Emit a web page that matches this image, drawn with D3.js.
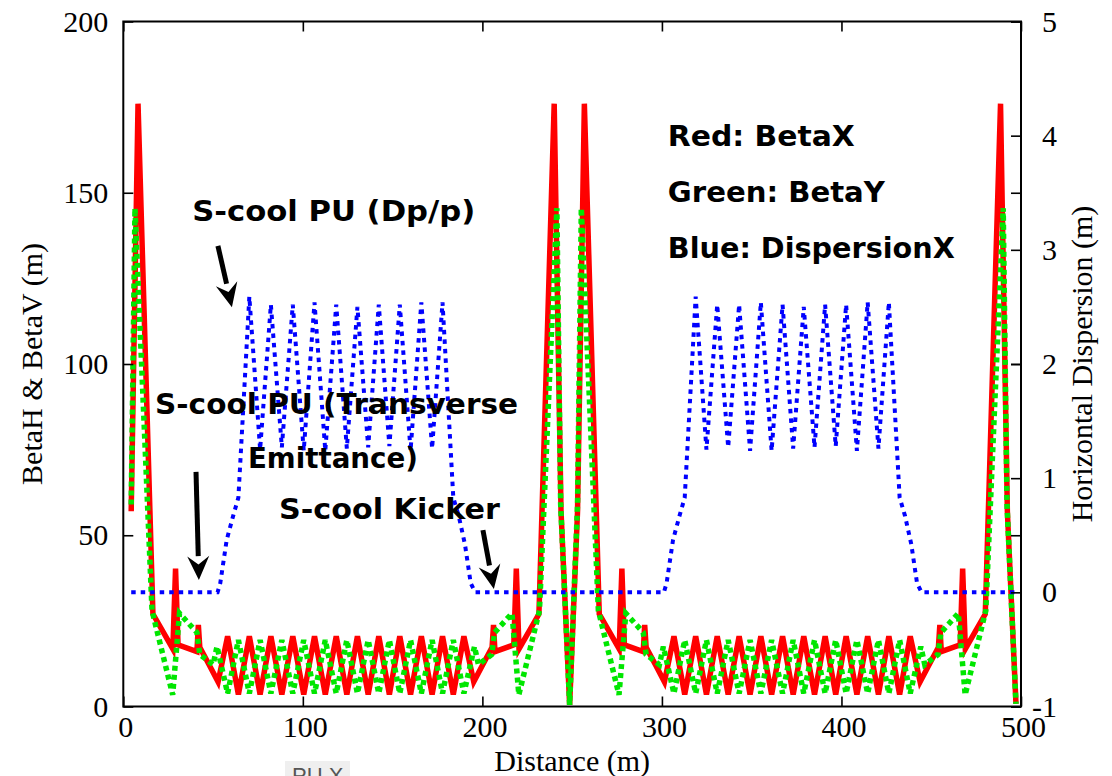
<!DOCTYPE html>
<html>
<head>
<meta charset="utf-8">
<script src="https://cdn.jsdelivr.net/npm/d3@7"></script>
<style>
  html, body { margin: 0; padding: 0; background: #fff; }
  svg { display: block; }
</style>
</head>
<body>
<svg id="chart" width="1112" height="776"></svg>
<script>
// ---- Lattice functions along the ring (distance in m) ----

// Horizontal beta function (left axis, m)
const distBetaX = [
  4.4, 8.2, 16.5, 27.6, 29.1, 30.5, 41.0, 41.8, 42.6, 47.5, 52.8,
  58.1, 64.1, 70.2, 76.2, 82.2, 88.3, 94.4, 100.5, 106.5, 112.5, 118.6, 124.5,
  130.4, 136.4, 142.3, 148.2, 154.0, 160.0, 166.0, 172.0, 177.8, 183.8, 189.7,
  195.2, 200.5, 205.4, 206.2, 207.0, 217.5, 218.9, 220.4, 231.5, 240.0, 243.8, 248.6,
  253.0, 256.8, 265.1, 276.2, 277.7, 279.1, 289.6, 290.4, 291.2, 296.1, 301.4,
  306.7, 312.7, 318.8, 324.8, 330.8, 336.9, 343.0, 349.1, 355.1, 361.1, 367.2, 373.1,
  379.0, 385.0, 390.9, 396.8, 402.6, 408.6, 414.6, 420.6, 426.4, 432.4, 438.3,
  443.8, 449.1, 454.0, 454.8, 455.6, 466.1, 467.5, 469.0, 480.1, 488.6, 492.4, 497.2
];
const betaX = [
  57, 176, 27, 16.8, 40.3, 18, 16, 23.8, 17.3, 12.5, 7.2,
  20.5, 3.5, 20.5, 3.5, 20.5, 3.5, 20.5, 3.5, 20.5, 3.5, 20.5, 3.5,
  20.5, 3.5, 20.5, 3.5, 20.5, 3.5, 20.5, 3.5, 20.5, 3.5, 20.5,
  7.2, 12.5, 17.3, 23.8, 16, 18, 40.3, 16.8, 27, 176, 57, 0.5,
  57, 176, 27, 16.8, 40.3, 18, 16, 23.8, 17.3, 12.5, 7.2,
  20.5, 3.5, 20.5, 3.5, 20.5, 3.5, 20.5, 3.5, 20.5, 3.5, 20.5, 3.5,
  20.5, 3.5, 20.5, 3.5, 20.5, 3.5, 20.5, 3.5, 20.5, 3.5, 20.5,
  7.2, 12.5, 17.3, 23.8, 16, 18, 40.3, 16.8, 27, 176, 57, 0.8
];

// Vertical beta function (left axis, m)
const distBetaY = [
  4.4, 6.5, 16.0, 27.5, 31.3, 41.0, 42.6, 50.0, 52.2,
  58.1, 64.1, 70.2, 76.2, 82.2, 88.3, 94.4, 100.5, 106.5, 112.5, 118.6, 124.5,
  130.4, 136.4, 142.3, 148.2, 154.0, 160.0, 166.0, 172.0, 177.8, 183.8, 189.7,
  195.6, 197.8, 205.2, 206.8, 216.5, 220.3, 231.8, 241.5, 243.6, 248.6,
  253.0, 255.1, 264.6, 276.1, 279.9, 289.6, 291.2, 298.6, 300.8,
  306.7, 312.7, 318.8, 324.8, 330.8, 336.9, 343.0, 349.1, 355.1, 361.1, 367.2, 373.1,
  379.0, 385.0, 390.9, 396.8, 402.6, 408.6, 414.6, 420.6, 426.4, 432.4, 438.3,
  444.2, 446.4, 453.8, 455.4, 465.1, 468.9, 480.4, 490.1, 492.2, 497.2
];
const betaY = [
  59, 145.5, 28, 3.4, 27.2, 21.6, 15.2, 12.2, 17.5,
  3.8, 19.4, 3.8, 19.4, 3.8, 19.4, 3.8, 19.4, 3.8, 19.4, 3.8, 19.4,
  3.8, 19.4, 3.8, 19.4, 3.8, 19.4, 3.8, 19.4, 3.8, 19.4, 3.8,
  17.5, 12.2, 15.2, 21.6, 27.2, 3.4, 28, 145.5, 59, 0.5,
  59, 145.5, 28, 3.4, 27.2, 21.6, 15.2, 12.2, 17.5,
  3.8, 19.4, 3.8, 19.4, 3.8, 19.4, 3.8, 19.4, 3.8, 19.4, 3.8, 19.4,
  3.8, 19.4, 3.8, 19.4, 3.8, 19.4, 3.8, 19.4, 3.8, 19.4, 3.8,
  17.5, 12.2, 15.2, 21.6, 27.2, 3.4, 28, 145.5, 59, 0.8
];

// Horizontal dispersion (right axis, m)
const distDispX = [
  4.4, 52.5, 54.0, 57.6, 61.2, 64.1,
  70.2, 76.2, 82.2, 88.3, 94.4, 100.5, 106.5, 112.5, 118.6, 124.5,
  130.4, 136.4, 142.3, 148.2, 154.0, 160.0, 166.0, 172.0, 177.8,
  183.8, 186.8, 190.3, 193.5, 196.0,
  301.1, 302.6, 306.2, 309.8, 312.7,
  318.8, 324.8, 330.8, 336.9, 343.0, 349.1, 355.1, 361.1, 367.2, 373.1,
  379.0, 385.0, 390.9, 396.8, 402.6, 408.6, 414.6, 420.6, 426.4,
  432.4, 435.4, 438.9, 442.1, 444.6, 497.6
];
const dispX = [
  0, 0, 0.08, 0.46, 0.67, 0.83,
  2.59, 1.25, 2.52, 1.27, 2.52, 1.24, 2.54, 1.24, 2.52, 1.26,
  2.50, 1.27, 2.52, 1.28, 2.52, 1.24, 2.54, 1.26, 2.54,
  0.83, 0.67, 0.42, 0.08, 0,
  0, 0.08, 0.46, 0.67, 0.83,
  2.59, 1.25, 2.52, 1.27, 2.52, 1.24, 2.54, 1.24, 2.52, 1.26,
  2.50, 1.27, 2.52, 1.28, 2.52, 1.24, 2.54, 1.26, 2.54,
  0.83, 0.67, 0.42, 0.08, 0, 0
];

// ---- Axis ticks ----
const distTicks = [0, 100, 200, 300, 400, 500];
const betaTicks = [0, 50, 100, 150, 200];
const dispTicks = [-1, 0, 1, 2, 3, 4, 5];

// ---- Annotations: text anchored at [distance, beta] ----
const notes = [
  { text: "S-cool PU (Dp/p)",       at: [38.4, 141.8], len: 283 },
  { text: "S-cool PU (Transverse",  at: [17.7, 85.4],  len: 363 },
  { text: "Emittance)",             at: [69.4, 69.6],  len: 170 },
  { text: "S-cool Kicker",          at: [86.7, 54.7],  len: 221 },
  { text: "Red: BetaX",             at: [303.3, 163.6], len: 187 },
  { text: "Green: BetaY",           at: [303.3, 147.3], len: 217 },
  { text: "Blue: DispersionX",      at: [303.3, 131.0], len: 287 }
];
// arrows: [tail, tip] in [distance, beta]
const arrows = [
  [[52.7, 134.5], [60.5, 116.6]],
  [[40.5, 68.5],  [42.1, 36.9]],
  [[200.3, 51.5], [206.4, 34.3]]
];

// ---- Layout ----
const W = 1112, H = 776;
const margin = { top: 21.5, right: 91, bottom: 69.5, left: 123.3 };
const svg = d3.select("#chart");

const x  = d3.scaleLinear().domain([0, 500]).range([margin.left, W - margin.right]);
const yL = d3.scaleLinear().domain([0, 200]).range([H - margin.bottom, margin.top]);
const yR = d3.scaleLinear().domain([-1, 5]).range([H - margin.bottom, margin.top]);

const serif = "'Liberation Serif', 'Times New Roman', serif";
const handFont = "'DejaVu Sans', sans-serif";

svg.append("defs").append("clipPath").attr("id", "plotClip")
  .append("rect")
  .attr("x", x(0)).attr("y", yL(200))
  .attr("width", x(500) - x(0)).attr("height", yL(0) - yL(200));

// ---- Curves ----
const plot = svg.append("g").attr("clip-path", "url(#plotClip)");

const lineL = d3.line().x(d => x(d[0])).y(d => yL(d[1]));
const lineR = d3.line().x(d => x(d[0])).y(d => yR(d[1]));

plot.append("path")
  .datum(d3.zip(distBetaX, betaX))
  .attr("d", lineL)
  .attr("fill", "none")
  .attr("stroke", "#ff0000")
  .attr("stroke-width", 5.5)
  .attr("stroke-miterlimit", 4);

plot.append("path")
  .datum(d3.zip(distBetaY, betaY))
  .attr("d", lineL)
  .attr("fill", "none")
  .attr("stroke", "#00e600")
  .attr("stroke-width", 5.5)
  .attr("stroke-dasharray", "5,4")
  .attr("stroke-miterlimit", 4);

plot.append("path")
  .datum(d3.zip(distDispX, dispX))
  .attr("d", lineR)
  .attr("fill", "none")
  .attr("stroke", "#0000ff")
  .attr("stroke-width", 4)
  .attr("stroke-dasharray", "4.5,5");

// ---- Frame and axes ----
svg.append("rect")
  .attr("x", x(0)).attr("y", yL(200))
  .attr("width", x(500) - x(0)).attr("height", yL(0) - yL(200))
  .attr("fill", "none").attr("stroke", "#000").attr("stroke-width", 2);

function styleAxis(g) {
  g.select(".domain").remove();
  g.selectAll(".tick line").attr("stroke", "#000").attr("stroke-width", 1.6);
  g.selectAll(".tick text")
    .attr("fill", "#000")
    .style("font-family", serif)
    .style("font-size", "30px");
}

// bottom
svg.append("g")
  .attr("transform", `translate(0,${yL(0)})`)
  .call(d3.axisBottom(x).tickValues(distTicks).tickSize(-10).tickPadding(9)
    .tickFormat(d3.format("d")))
  .call(styleAxis)
  .call(g => g.selectAll(".tick text").attr("dx", 2));

// top (mirrored ticks, no labels)
svg.append("g")
  .attr("transform", `translate(0,${yL(200)})`)
  .call(d3.axisTop(x).tickValues(distTicks).tickSize(-10).tickFormat(""))
  .call(styleAxis);

// left
svg.append("g")
  .attr("transform", `translate(${x(0)},0)`)
  .call(d3.axisLeft(yL).tickValues(betaTicks).tickSize(-10).tickPadding(15)
    .tickFormat(d3.format("d")))
  .call(styleAxis);

// left ticks repeated on the right edge
svg.append("g")
  .attr("transform", `translate(${x(500)},0)`)
  .call(d3.axisRight(yL).tickValues(betaTicks).tickSize(-10).tickFormat(""))
  .call(styleAxis);

// right
svg.append("g")
  .attr("transform", `translate(${x(500)},0)`)
  .call(d3.axisRight(yR).tickValues(dispTicks).tickSize(-10).tickPadding(36)
    .tickFormat(d => String(d)))
  .call(styleAxis)
  .call(g => g.selectAll(".tick text").attr("text-anchor", "end"));

// axis titles
svg.append("text")
  .attr("transform", `translate(42,${(yL(0) + yL(200)) / 2}) rotate(-90)`)
  .attr("text-anchor", "middle")
  .style("font-family", serif).style("font-size", "30px")
  .text("BetaH & BetaV (m)");

svg.append("text")
  .attr("transform", `translate(1092,${(yL(0) + yL(200)) / 2}) rotate(-90)`)
  .attr("text-anchor", "middle")
  .style("font-family", serif).style("font-size", "30px")
  .text("Horizontal Dispersion (m)");

svg.append("text")
  .attr("x", (x(0) + x(500)) / 2).attr("y", 771)
  .attr("text-anchor", "middle")
  .style("font-family", serif).style("font-size", "30px")
  .text("Distance (m)");

// small leftover label at the lower edge
svg.append("rect").attr("x", 285).attr("y", 761).attr("width", 65).attr("height", 15)
  .attr("fill", "#efefef");
svg.append("text")
  .attr("x", 292).attr("y", 782.5)
  .style("font-family", "'Liberation Sans', Arial, sans-serif")
  .style("font-size", "22px").attr("fill", "#555")
  .text("PU X");

// ---- Annotations ----
const ann = svg.append("g");
ann.selectAll("text")
  .data(notes)
  .join("text")
  .attr("x", d => x(d.at[0]))
  .attr("y", d => yL(d.at[1]))
  .attr("textLength", d => d.len)
  .attr("lengthAdjust", "spacingAndGlyphs")
  .style("font-family", handFont)
  .style("font-weight", "bold")
  .style("font-size", "29px")
  .attr("fill", "#000")
  .text(d => d.text);

arrows.forEach(([tail, tip]) => {
  const x0 = x(tail[0]), y0 = yL(tail[1]);
  const x1 = x(tip[0]),  y1 = yL(tip[1]);
  const ang = Math.atan2(y1 - y0, x1 - x0);
  const headLen = 24, headHalf = 11;
  const bx = x1 - headLen * Math.cos(ang), by = y1 - headLen * Math.sin(ang);
  ann.append("line")
    .attr("x1", x0).attr("y1", y0).attr("x2", bx).attr("y2", by)
    .attr("stroke", "#000").attr("stroke-width", 5);
  const px = -Math.sin(ang), py = Math.cos(ang);
  ann.append("path")
    .attr("d", `M${x1},${y1}L${bx + headHalf * px},${by + headHalf * py}` +
               `L${bx + 0.35 * headLen * Math.cos(ang)},${by + 0.35 * headLen * Math.sin(ang)}` +
               `L${bx - headHalf * px},${by - headHalf * py}Z`)
    .attr("fill", "#000");
});
</script>
</body>
</html>
